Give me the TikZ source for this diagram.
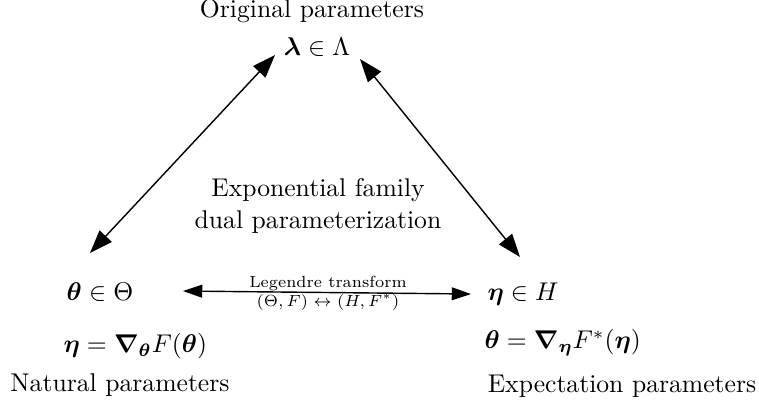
\documentclass[tikz,border=0pt]{standalone}
\usepackage{amsmath,bm,graphicx}
\usetikzlibrary{arrows.meta}
\begin{document}
\begin{tikzpicture}[x=0.39pt,y=-0.39pt,
  lbl/.style={inner sep=0pt, anchor=center},
  small/.style={inner sep=0pt, anchor=center, font=\scriptsize},
  big/.style={<->, >={Triangle[length=9pt,width=6.5pt]}, line width=0.55pt},
  mid/.style={<->, >={Triangle[length=7.5pt,width=5pt]}, line width=0.55pt}]
\useasboundingbox (0,0) rectangle (759,408);
\node[lbl] (orig) at (312,11) {Original parameters};
\node[lbl] (lam) at (317,47) {$\bm{\lambda}\in\Lambda$};
\node[lbl] (exp1) at (318,190) {Exponential family};
\node[lbl] (exp2) at (318,222) {dual parameterization};
\node[lbl] (th) at (100,292) {$\bm{\theta}\in\Theta$};
\node[lbl, anchor=west] (eqL) at (63,346) {$\bm{\eta}=\bm{\nabla}_{\bm{\theta}}F(\bm{\theta})$};
\node[lbl] (nat) at (120,385) {Natural parameters};
\node[lbl, anchor=west] (et) at (487,294) {$\bm{\eta}\in H$};
\node[lbl, anchor=west] (eqR) at (484,343) {$\bm{\theta}=\bm{\nabla}_{\bm{\eta}}F^{*}(\bm{\eta})$};
\node[lbl] (expn) at (622,386) {Expectation parameters};
\coordinate (a1) at (275,55);
\coordinate (a2) at (90,253);
\coordinate (b1) at (360,59);
\coordinate (b2) at (520,257);
\coordinate (c1) at (183,291);
\coordinate (c2) at (471,294);
\draw[big] (a1) -- (a2);
\draw[big] (b1) -- (b2);
\draw[mid] (c1) -- (c2);
\node[small] (leg1) at (328,283) {\scalebox{0.9}{Legendre transform}};
\node[small] (leg2) at (328,302) {\scalebox{0.9}{$(\Theta,F)\leftrightarrow(H,F^{*})$}};
\end{tikzpicture}
\end{document}
